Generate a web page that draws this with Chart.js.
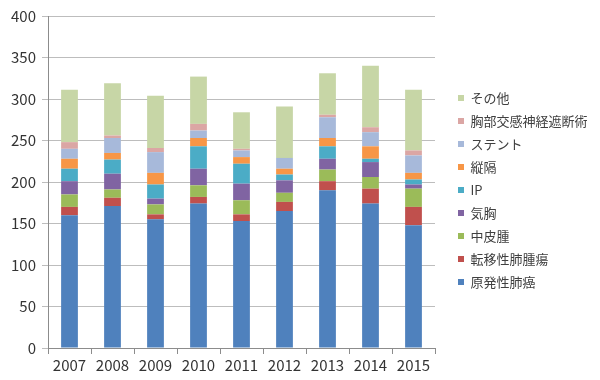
<!DOCTYPE html>
<html><head><meta charset="utf-8">
<script src="https://cdn.jsdelivr.net/npm/chart.js@4/dist/chart.umd.min.js"></script>
<style>html,body{margin:0;padding:0;background:#fff;}#wrap{width:600px;height:380px;}</style>
</head><body><div id="wrap"><canvas id="c" width="600" height="380"></canvas></div>
<script>
const years = ['2007','2008','2009','2010','2011','2012','2013','2014','2015'];
const primaryLungCancer = [160, 171, 155, 174, 153, 165, 190, 174, 148];
const metastaticLungTumor = [10, 10, 6, 8, 8, 11, 11, 18, 22];
const mesothelioma = [15, 10, 12, 14, 17, 11, 14, 14, 22];
const pneumothorax = [16, 19, 7, 20, 20, 15, 13, 18, 5];
const ip = [15, 17, 17, 27, 24, 7, 15, 4, 6];
const mediastinum = [12, 8, 14, 10, 8, 7, 10, 15, 8];
const stent = [12, 18, 25, 9, 8, 13, 25, 17, 21];
const sympathectomy = [8, 3, 5, 8, 2, 0, 3, 6, 6];
const others = [63, 63, 63, 57, 44, 62, 50, 74, 73];
const yTicks = [0, 50, 100, 150, 200, 250, 300, 350, 400];

const FONT = '"Noto Sans CJK JP", "Noto Sans", sans-serif';
const series = [
  ['原発性肺癌', primaryLungCancer, '#4F81BD'],
  ['転移性肺腫瘍', metastaticLungTumor, '#C0504D'],
  ['中皮腫', mesothelioma, '#9BBB59'],
  ['気胸', pneumothorax, '#8064A2'],
  ['IP', ip, '#4BACC6'],
  ['縦隔', mediastinum, '#F79646'],
  ['ステント', stent, '#A7B9DA'],
  ['胸部交感神経遮断術', sympathectomy, '#DBA6A4'],
  ['その他', others, '#C7D6A6']
];

const LEGEND_W = 140;
const legendPlace = {
  id: 'legendPlace',
  beforeLayout(chart) {
    const lg = chart.legend;
    if (lg && !lg._wrapped) {
      const f = lg.fit.bind(lg);
      lg.fit = function () { f(); this.width = LEGEND_W; };
      lg._wrapped = true;
    }
  },
  afterLayout(chart) {
    const lg = chart.legend;
    if (!lg) return;
    lg.left = 448; lg.right = 448 + LEGEND_W;
    lg.top -= 8; lg.bottom -= 8;
  }
};

new Chart(document.getElementById('c'), {
  type: 'bar',
  data: {
    labels: years,
    datasets: series.map(([label, data, color]) => ({
      label, data, backgroundColor: color, borderWidth: 0,
      barPercentage: 0.39, categoryPercentage: 1.0
    }))
  },
  plugins: [legendPlace],
  options: {
    responsive: false,
    animation: false,
    devicePixelRatio: 1,
    layout: { padding: { top: 16, right: 600 - 435 - LEGEND_W, bottom: 0, left: 0 } },
    plugins: {
      tooltip: { enabled: false },
      legend: {
        position: 'right',
        reverse: true,
        labels: {
          boxWidth: 6, boxHeight: 6, padding: 10,
          color: '#404040',
          font: { family: FONT, size: 13 }
        }
      }
    },
    scales: {
      x: {
        stacked: true,
        grid: { display: true, drawOnChartArea: false, offset: true, tickLength: 6, color: '#8C8C8C' },
        border: { color: '#8C8C8C' },
        ticks: { color: '#333', font: { family: FONT, size: 15 }, padding: 2, maxRotation: 0 },
        afterFit: s => { s.height = 32; }
      },
      y: {
        stacked: true,
        min: 0, max: 400,
        afterBuildTicks: s => { s.ticks = yTicks.map(v => ({ value: v })); },
        grid: { color: '#BDBDBD', tickLength: 6 },
        border: { color: '#8C8C8C' },
        ticks: { color: '#333', font: { family: FONT, size: 15 }, padding: 6 },
        afterFit: s => { s.width = 48; }
      }
    }
  }
});
</script>
</body></html>
